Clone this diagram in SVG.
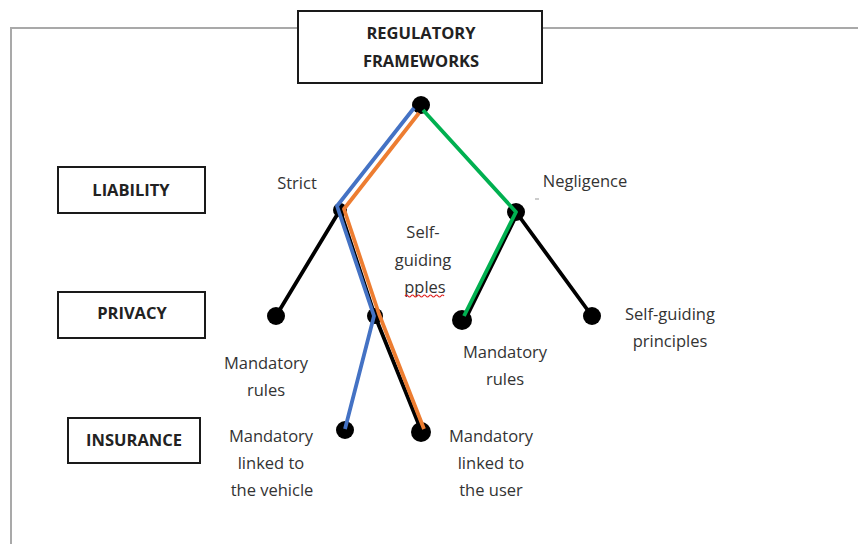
<svg xmlns="http://www.w3.org/2000/svg" width="858" height="544" viewBox="0 0 858 544">
<style>
.frame{fill:none;stroke:#a9a9a9;stroke-width:2}
.box{fill:#fff;stroke:#1a1a1a;stroke-width:2}
.hdr{font-family:"Open Sans","Liberation Sans",sans-serif;font-weight:700;font-size:16.5px;fill:#222;text-anchor:middle}
.lbl{font-family:"Open Sans","Liberation Sans",sans-serif;font-size:16.5px;fill:#333;text-anchor:middle}
.blk{fill:none;stroke:#000;stroke-width:3.8;stroke-linecap:round;stroke-linejoin:round}
.blue{fill:none;stroke:#4472C4;stroke-width:3.8;stroke-linejoin:round}
.orange{fill:none;stroke:#ED7D31;stroke-width:3.8;stroke-linejoin:round}
.green{fill:none;stroke:#00B050;stroke-width:3.8;stroke-linejoin:round}
.dot{fill:#000}
</style>
<rect width="858" height="544" fill="#fff"/>
<path class="frame" d="M298,28 H11 V544 M542,28 H858"/>
<g id="regulatory-frameworks">
<rect class="box" x="298" y="11" width="244" height="72"/>
<text class="hdr" x="421" y="39">REGULATORY</text>
<text class="hdr" x="421" y="67">FRAMEWORKS</text>
</g>
<g id="liability">
<rect class="box" x="58" y="167" width="147" height="46"/>
<text class="hdr" x="131" y="196">LIABILITY</text>
</g>
<g id="privacy">
<rect class="box" x="58" y="292" width="147" height="46"/>
<text class="hdr" x="132" y="319">PRIVACY</text>
</g>
<g id="insurance">
<rect class="box" x="68" y="418" width="132" height="45"/>
<text class="hdr" x="134" y="446">INSURANCE</text>
</g>
<g id="connectors">
<path class="blk" d="M340,210 L276,316 M340,210 L375,316 M516,212 L592,316 M518,212 L466,318 M375,316 L421,430"/>
</g>
<g id="dots">
<g id="root"><circle class="dot" cx="421" cy="105" r="9"/></g>
<g id="strict"><circle class="dot" cx="340" cy="210" r="7"/><text class="lbl" x="297" y="189">Strict</text></g>
<g id="negligence"><circle class="dot" cx="516" cy="212" r="9"/><text class="lbl" x="585" y="187">Negligence</text><line x1="535" y1="199" x2="539" y2="199" stroke="#999" stroke-width="1"/></g>
<g id="mandatory-rules-1"><circle class="dot" cx="276" cy="316" r="9"/><text class="lbl" x="266" y="369">Mandatory</text><text class="lbl" x="266" y="396">rules</text></g>
<g id="self-guiding-pples"><circle class="dot" cx="375" cy="316" r="8"/><text class="lbl" x="423" y="238">Self-</text><text class="lbl" x="423" y="266">guiding</text><text class="lbl" x="425" y="293">pples</text><path d="M405,296 q1.5,-2 3,0 t3,0 t3,0 t3,0 t3,0 t3,0 t3,0 t3,0 t3,0 t3,0 t3,0 t3,0 t3,0" fill="none" stroke="#e02020" stroke-width="1.2"/></g>
<g id="mandatory-rules-2"><circle class="dot" cx="462" cy="320" r="10"/><text class="lbl" x="505" y="358">Mandatory</text><text class="lbl" x="505" y="385">rules</text></g>
<g id="self-guiding-principles"><circle class="dot" cx="592" cy="316" r="9"/><text class="lbl" x="670" y="320">Self-guiding</text><text class="lbl" x="670" y="347">principles</text></g>
<g id="linked-vehicle"><circle class="dot" cx="345" cy="430" r="9"/><text class="lbl" x="271" y="442">Mandatory</text><text class="lbl" x="271" y="469">linked to</text><text class="lbl" x="272" y="496">the vehicle</text></g>
<g id="linked-user"><circle class="dot" cx="421" cy="432" r="10"/><text class="lbl" x="491" y="442">Mandatory</text><text class="lbl" x="491" y="469">linked to</text><text class="lbl" x="491" y="496">the user</text></g>
</g>
<g id="paths">
<path class="blue" d="M414,108 L337,206 L374,316 L345,429"/>
<path class="orange" d="M419,113 L344,209 L379,314 L424,429"/>
<path class="green" d="M423,110 L516,212 L464,316"/>
</g>
</svg>
